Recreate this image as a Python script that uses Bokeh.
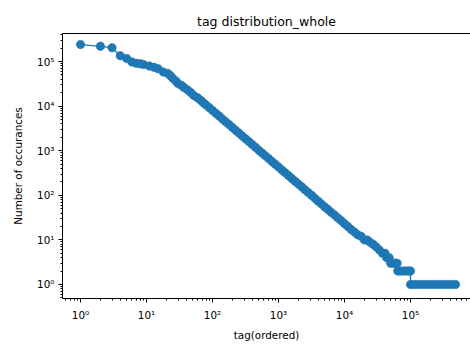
from bokeh.plotting import figure
from bokeh.models import LogAxis, FixedTicker, CustomJSTickFormatter, Range1d
from bokeh.embed import file_html
from bokeh.resources import INLINE

# ---- data ----
tag_rank = [
    1, 2, 3, 4, 5, 6, 7, 8, 9, 11, 13, 15, 18, 21, 23, 25, 28, 30, 34, 37, 42, 47, 52, 59, 66, 72,
    79, 89, 100, 112, 126, 141, 158, 178, 200, 224, 251, 282, 316, 355, 398, 447, 501, 562, 631,
    708, 794, 891, 1000, 1122, 1259, 1413, 1585, 1778, 1995, 2239, 2512, 2818, 3162, 3548, 3981,
    4467, 5012, 5623, 6310, 7079, 7943, 8913, 10000, 11220, 12589, 14125, 15849, 17783,
    20000, 22000, 24000, 27000, 30000, 33500, 37500, 41000, 43500, 47500,
    50000, 54500, 59000, 62500, 64000, 70000, 77000, 85000, 93000, 100000,
    100001, 114000, 130000, 150000, 170000, 195000, 220000, 250000, 285000, 325000, 370000, 420000, 480000,
]
occurrences = [
    240000, 219000, 204000, 135000, 117000, 98000, 91000, 89000, 86000, 79000, 74000, 69000, 58000,
    54000, 48000, 42000, 36000, 32000, 29000, 26000, 23000, 20000, 17400, 15500, 13500, 12000,
    10700, 9250, 8000, 6920, 5970, 5150, 4460, 3850, 3330, 2880, 2480, 2150, 1850, 1600, 1380,
    1200, 1030, 893, 771, 666, 575, 498, 430, 371, 321, 277, 239, 207, 179, 155, 133, 115, 100,
    86, 74, 64, 55, 48, 41, 36, 31, 27, 23, 20, 17, 15, 13, 12,
    10, 10, 9, 8, 7, 6, 5, 5, 4, 4,
    3, 3, 3, 3, 2, 2, 2, 2, 2, 2,
    1, 1, 1, 1, 1, 1, 1, 1, 1, 1, 1, 1, 1,
]

tick_values = [1, 10, 100, 1000, 10000, 100000]
tick_labels = ["10\u2070", "10\u00b9", "10\u00b2", "10\u00b3", "10\u2074", "10\u2075"]

title_text = "tag distribution_whole"
x_label = "tag(ordered)"
y_label = "Number of occurances"

BLUE = "#1f77b4"
FONT = "DejaVu Sans"

p = figure(
    width=470, height=345,
    x_axis_type="log", y_axis_type="log",
    x_range=Range1d(0.533, 8.1e5), y_range=Range1d(0.485, 4.25e5),
    output_backend="svg", toolbar_location=None,
    min_border_left=62, min_border_right=0, min_border_top=33, min_border_bottom=47,
    title=title_text,
)
p.outline_line_color = None
p.background_fill_color = "white"
p.border_fill_color = "white"
p.xgrid.visible = False
p.ygrid.visible = False

p.title.align = "center"
p.title.text_font = FONT
p.title.text_font_size = "12.5px"
p.title.text_font_style = "normal"
p.title.text_color = "#000000"
p.title.standoff = 10

minor = [m * 10.0 ** d for d in range(-1, 6) for m in range(2, 10)]
fmt_code = """
const i = vals.findIndex(v => Math.abs(v - tick) < 1e-6 * v);
return i >= 0 ? labels[i] : '';
"""

for ax in (p.xaxis[0], p.yaxis[0]):
    ax.ticker = FixedTicker(ticks=tick_values, minor_ticks=minor)
    ax.formatter = CustomJSTickFormatter(args=dict(vals=tick_values, labels=tick_labels), code=fmt_code)
    ax.axis_line_color = "black"
    ax.axis_line_width = 1
    ax.major_tick_line_color = "black"
    ax.minor_tick_line_color = "black"
    ax.major_tick_in = 0
    ax.major_tick_out = 4
    ax.minor_tick_in = 0
    ax.minor_tick_out = 2
    ax.major_label_text_font = FONT
    ax.major_label_text_font_size = "10.4px"
    ax.major_label_text_color = "#000000"
    ax.axis_label_text_font = FONT
    ax.axis_label_text_font_size = "10.4px"
    ax.axis_label_text_font_style = "normal"
    ax.axis_label_text_color = "#000000"

p.xaxis.axis_label = x_label
p.yaxis.axis_label = y_label
p.xaxis.major_label_standoff = 6
p.xaxis.axis_label_standoff = 5
p.yaxis.major_label_standoff = 4
p.yaxis.axis_label_standoff = 10

top = LogAxis(ticker=FixedTicker(ticks=[], minor_ticks=[]),
              major_label_text_font_size="0px", axis_line_color="black",
              major_tick_line_color=None, minor_tick_line_color=None)
p.add_layout(top, "above")

p.line(tag_rank, occurrences, line_color=BLUE, line_width=1.3)
p.scatter(tag_rank, occurrences, size=8.5, fill_color=BLUE, line_color=BLUE, line_width=0.5)

open("out.html", "w").write(file_html(p, INLINE))
